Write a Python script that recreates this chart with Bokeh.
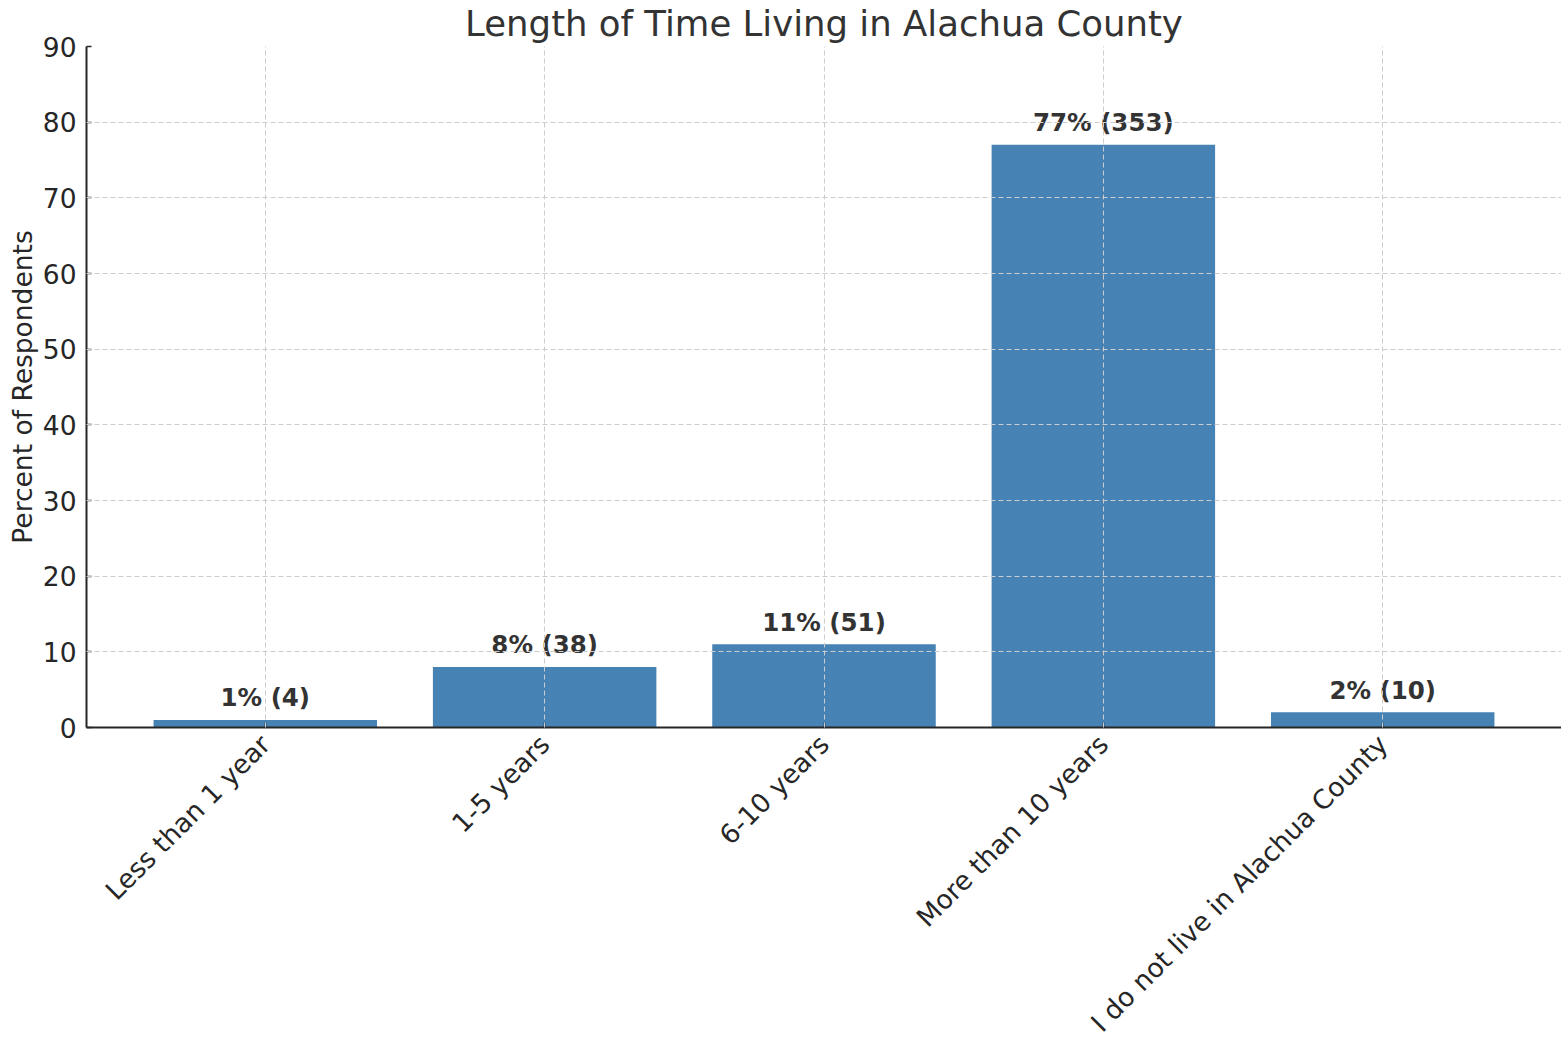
from math import pi
from bokeh.plotting import figure
from bokeh.models import Range1d, FixedTicker, ColumnDataSource
from bokeh.core.properties import value
from bokeh.embed import file_html
from bokeh.resources import INLINE

categories = ["Less than 1 year", "1-5 years", "6-10 years",
              "More than 10 years", "I do not live in Alachua County"]
percents = [1, 8, 11, 77, 2]
counts = [4, 38, 51, 353, 10]
y_ticks = [0, 10, 20, 30, 40, 50, 60, 70, 80, 90]

idx = list(range(len(categories)))
labels = [f"{p}% ({c})" for p, c in zip(percents, counts)]
label_y = [p + 1 for p in percents]

src = ColumnDataSource(dict(x=idx, top=percents, ly=label_y, lab=labels))

FONT = "DejaVu Sans"

p = figure(frame_width=1475, frame_height=681, output_backend="svg",
           toolbar_location=None,
           x_range=Range1d(-0.64, 4.64), y_range=Range1d(0, 90),
           min_border_left=86, min_border_right=0, min_border_top=46,
           min_border_bottom=311)
p.outline_line_color = None
p.background_fill_color = "white"

p.title.text = "Length of Time Living in Alachua County"
p.title.align = "center"
p.title.vertical_align = "top"
p.title.text_font = FONT
p.title.text_font_size = "35.5px"
p.title.text_font_style = "normal"
p.title.text_color = "#333333"
p.title.standoff = 2
p.title.offset = 0

p.vbar(x="x", top="top", width=0.8, source=src, fill_color="#4682B4",
       line_color=None)
p.text(x="x", y="ly", text="lab", source=src, text_align="center",
       text_baseline="bottom", text_font=value(FONT), text_font_size="24.5px",
       text_font_style="bold", text_color="#333333")

# axes
xa = p.xaxis[0]
xa.ticker = FixedTicker(ticks=idx)
xa.major_label_overrides = {i: c for i, c in zip(idx, categories)}
xa.major_label_orientation = pi / 4
xa.major_label_text_font = FONT
xa.major_label_text_font_size = "26.5px"
xa.major_label_text_color = "#262626"
xa.major_label_standoff = 12
xa.minor_tick_line_color = None
xa.major_tick_in = 5
xa.major_tick_out = 0
xa.axis_line_color = "#262626"
xa.axis_line_width = 2
xa.major_tick_line_color = "#262626"
xa.major_tick_line_width = 1.5

ya = p.yaxis[0]
ya.ticker = FixedTicker(ticks=y_ticks)
ya.major_label_text_font = FONT
ya.major_label_text_font_size = "26.5px"
ya.major_label_text_color = "#262626"
ya.major_label_standoff = 10
ya.minor_tick_line_color = None
ya.major_tick_in = 5
ya.major_tick_out = 0
ya.axis_line_color = "#262626"
ya.axis_line_width = 2
ya.major_tick_line_color = "#262626"
ya.major_tick_line_width = 1.5
ya.axis_label = "Percent of Respondents"
ya.axis_label_text_font = FONT
ya.axis_label_text_font_size = "26.5px"
ya.axis_label_text_font_style = "normal"
ya.axis_label_text_color = "#262626"
ya.axis_label_standoff = 2

for g in (p.xgrid[0], p.ygrid[0]):
    g.grid_line_color = "#cccccc"
    g.grid_line_dash = "5 3"
    g.grid_line_width = 1
    g.level = "overlay"

open("out.html", "w").write(file_html(p, INLINE))
